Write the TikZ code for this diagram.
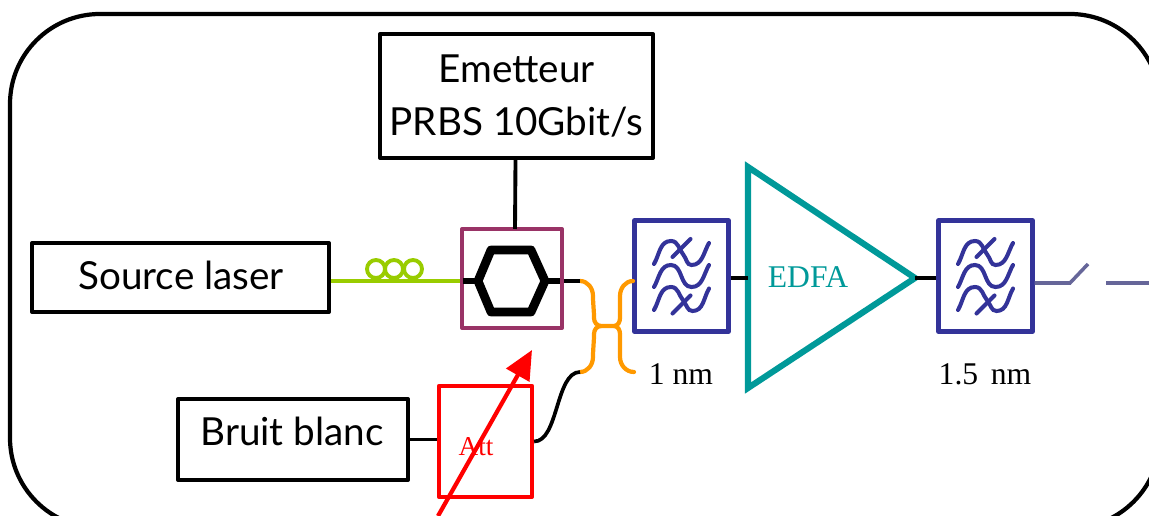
\documentclass[tikz,border=0pt]{standalone}
\usepackage{fontspec}
\setmainfont{Liberation Serif}
\newfontfamily\boxfont{Lato}
\usetikzlibrary{positioning, arrows.meta}
\definecolor{dpurple}{HTML}{993366}
\definecolor{dgreen}{HTML}{99CC00}
\definecolor{dorange}{HTML}{FF9900}
\definecolor{dblue}{HTML}{333399}
\definecolor{dteal}{HTML}{009999}
\definecolor{dgray}{HTML}{666699}
\definecolor{dred}{HTML}{FF0000}

\begin{document}
\begin{tikzpicture}[
    x=0.02cm, y=-0.02cm,
    block/.style={rectangle, draw=black, line width=2.3pt, line join=round, inner sep=0pt, align=center, font=\boxfont\fontsize{22}{28}\selectfont},
    filt/.style={rectangle, draw=dblue, line width=2.5pt, line join=round, inner sep=0pt, minimum width=1.88cm, minimum height=2.22cm},
    wave/.style={dblue, line width=2.3pt, line cap=round},
    arr/.style={black, line width=2.1pt},
    fibre/.style={dorange, line width=2.4pt, line cap=round},
    note/.style={font=\fontsize{18}{20}\selectfont, text=black, inner sep=0pt},
]
\useasboundingbox (0,0) rectangle (1149,516);

% Frame
\draw[line width=2.4pt, rounded corners=1.8cm] (10,14) rectangle (1160,528);

% Blocks
\node[block, minimum width=5.46cm, minimum height=2.48cm] (emetteur) at (516.5,96) {\raisebox{3pt}{Emetteur}\\[-1pt]PRBS 10Gbit/s};
\node[block, minimum width=5.94cm, minimum height=1.38cm] (laser) at (180.5,277.5) {};
\node[font=\boxfont\fontsize{22}{28}\selectfont, inner sep=0pt] (lasertext) at (181,275) {Source laser};
\node[block, minimum width=4.6cm, minimum height=1.62cm] (bruit) at (293,439.5) {};
\node[font=\boxfont\fontsize{22}{28}\selectfont, inner sep=0pt] (bruittext) at (292,431) {Bruit blanc};
\node[rectangle, draw=dpurple, line width=2.3pt, line join=round, inner sep=0pt, minimum width=2cm, minimum height=1.98cm] (modul) at (512,278.5) {};
\node[rectangle, draw=dred, line width=2.4pt, line join=round, inner sep=0pt, minimum width=1.86cm, minimum height=2.22cm] (att) at (485.5,441.5) {};
\node[text=dred, font=\fontsize{15.5}{16}\selectfont, inner sep=0pt] (atttext) at (476,447) {Att};
\node[filt] (fone) at (681.5,276) {};
\node[filt] (ftwo) at (985.5,276) {};

% Filter waves
\foreach \f in {fone,ftwo} {
\begin{scope}[shift={(\f.center)}]
\draw[wave] (-27.5,-12) to[out=60,in=180] (-10.5,-35) to[out=0,in=130] (2,-21) to[out=310,in=180] (10,-11) to[out=0,in=240] (27.5,-33);
\draw[wave] (-9,-19) -- (9,-37);
\draw[wave] (-27.5,11) to[out=60,in=180] (-10.5,-11) to[out=0,in=180] (10,11) to[out=0,in=240] (27.5,-11);
\draw[wave] (-27.5,34) to[out=60,in=180] (-10.5,11) to[out=0,in=130] (2,25) to[out=310,in=180] (11,35) to[out=0,in=240] (27.5,12.5);
\draw[wave] (-9,37.5) -- (9,19.5);
\end{scope}
}

% Amplifier
\coordinate (edfaw) at (748,278);
\coordinate (edfae) at (915,278);
\draw[dteal, line width=3.5pt, miter limit=10] (748,167) -- (edfae) -- (748,388) -- cycle;
\node[text=dteal, font=\fontsize{18}{20}\selectfont, inner sep=0pt] (edfa) at (808,277) {EDFA};

% Hexagon
\coordinate (hexw) at (478,281);
\coordinate (hexe) at (545,281);
\draw[line width=5pt, line join=round] (hexw) -- (491,250) -- (531,250) -- (hexe) -- (531,312) -- (491,312) -- cycle;
\draw[line width=3.4pt] (hexw) -- ++(-15,0);
\draw[line width=3.4pt] (hexe) -- ++(15,0);

% Coil
\foreach \cx in {376,394,413} {
\draw[dgreen, line width=2.2pt] (\cx,269) circle (0.18cm);
}

% Coupler
\coordinate (cplw) at (580,281);
\coordinate (cplsw) at (580,372);
\coordinate (cple) at (633,281);
\coordinate (cplse) at (634,372);
\draw[fibre] (cplw) to[out=0,in=90] (593,296) to[out=270,in=90] (594,318) to[out=270,in=180] (601,326) -- (614,326) to[out=0,in=270] (620,318) to[out=90,in=270] (620,296) to[out=90,in=180] (cple);
\draw[fibre] (cplsw) to[out=0,in=270] (593,357) to[out=90,in=270] (594,334) to[out=90,in=180] (601,326);
\draw[fibre] (cplse) to[out=180,in=270] (620,357) to[out=90,in=270] (620,334) to[out=90,in=0] (614,326);

% Arrows
\draw[arr, line width=2.2pt] (emetteur.south) ++(-1,0) -- (515,229);
\draw[dgreen, line width=2.2pt] (laser.east |- hexw) -- (modul.west |- hexw);
\draw[arr] (bruit.east) -- (att.west |- bruit.east);
\draw[arr] (modul.east |- cplw) -- (cplw);
\draw[arr] (att.east) to[out=0,in=180,looseness=0.75] (cplsw);
\draw[arr] (fone.east |- edfaw) -- (edfaw);
\draw[arr] (edfae) -- (ftwo.west |- edfae);

% Output
\coordinate (swa) at (1070,283);
\coordinate (swb) at (1088,264);
\coordinate (outa) at (1106,283);
\coordinate (outb) at (1149,283);
\draw[dgray, line width=2pt] (ftwo.east |- swa) -- (swa) -- (swb);
\draw[dgray, line width=2pt] (outa) -- (outb);

% Attenuator arrow
\coordinate (attfoot) at (438,516);
\coordinate (atttip) at (532,350);
\draw[dred, line width=2.4pt, -{Triangle[length=0.58cm, width=0.52cm]}] (attfoot) -- (atttip);

% Notes
\node[note] (lone) at (681,374) {1 nm};
\node[note] (ltwo) at (985,374) {1.5\hspace{0.4em}nm};

\end{tikzpicture}
\end{document}
